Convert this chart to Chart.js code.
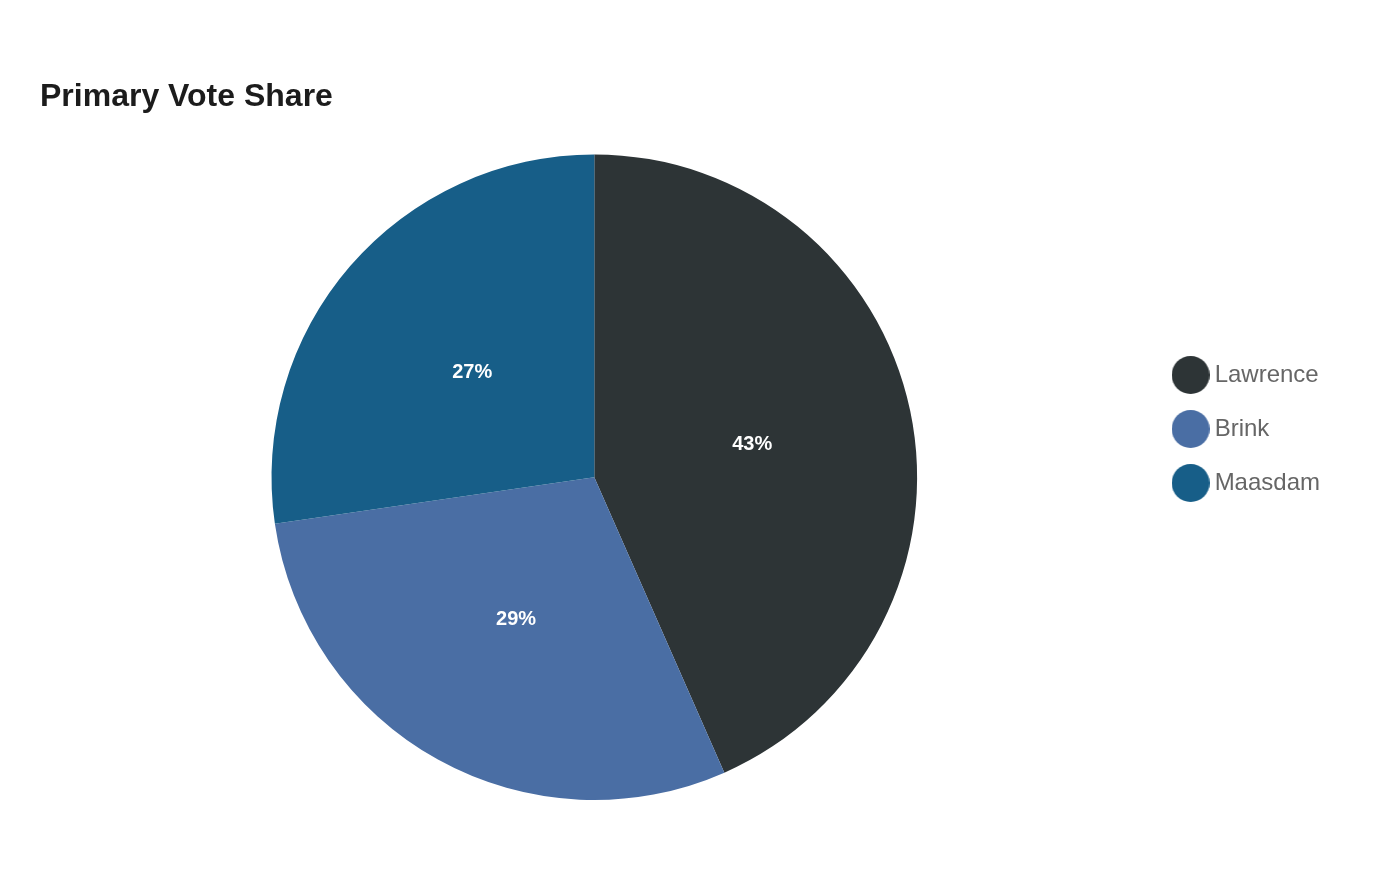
<!DOCTYPE html>
<html>
<head>
<meta charset="utf-8">
<script src="https://cdn.jsdelivr.net/npm/chart.js@4.4.1/dist/chart.umd.min.js"></script>
<style>
  html, body { margin: 0; padding: 0; background: #ffffff; }
  #wrap { width: 1400px; height: 880px; position: relative; }
</style>
</head>
<body>
<div id="wrap"><canvas id="c" width="1400" height="880"></canvas></div>
<script>
const chartTitle = 'Primary Vote Share';
const candidates = ['Lawrence', 'Brink', 'Maasdam'];
const voteShare = [43.4, 29.3, 27.3];
const sliceColors = ['#2d3436', '#4a6ea4', '#175e88'];

function circleImage(color, d) {
  const cv = document.createElement('canvas');
  cv.width = d; cv.height = d;
  const g = cv.getContext('2d');
  g.fillStyle = color;
  g.beginPath();
  g.arc(d / 2, d / 2, d / 2, 0, Math.PI * 2);
  g.fill();
  return cv;
}
const legendDots = sliceColors.map(c => circleImage(c, 38));

const sliceLabels = {
  id: 'sliceLabels',
  afterDatasetsDraw(chart) {
    const ctx = chart.ctx;
    const meta = chart.getDatasetMeta(0);
    const data = chart.data.datasets[0].data;
    const total = data.reduce((a, b) => a + b, 0);
    ctx.save();
    ctx.fillStyle = '#ffffff';
    ctx.font = 'bold 20px "Liberation Sans", Arial, sans-serif';
    ctx.textAlign = 'center';
    ctx.textBaseline = 'middle';
    meta.data.forEach((arc, i) => {
      const p = arc.tooltipPosition();
      ctx.fillText(Math.round(data[i] / total * 100) + '%', p.x, p.y + 1);
    });
    ctx.restore();
  }
};

new Chart(document.getElementById('c'), {
  type: 'pie',
  data: {
    labels: candidates,
    datasets: [{
      data: voteShare,
      backgroundColor: sliceColors,
      borderWidth: 0
    }]
  },
  options: {
    responsive: false,
    animation: false,
    devicePixelRatio: 1,
    layout: { padding: { top: 58, bottom: 80, left: 40, right: 70 } },
    plugins: {
      title: {
        display: true,
        text: chartTitle,
        align: 'start',
        color: '#1c1c1c',
        font: { family: '"Liberation Sans", Arial, sans-serif', size: 32, weight: 'bold', lineHeight: 1.2 },
        padding: { top: 20, bottom: 38 }
      },
      legend: {
        position: 'right',
        align: 'center',
        labels: {
          usePointStyle: true,
          padding: 30,
          color: '#666666',
          font: { family: '"Liberation Sans", Arial, sans-serif', size: 24 },
          generateLabels(chart) {
            const base = Chart.controllers.pie.overrides.plugins.legend.labels.generateLabels(chart);
            base.forEach((item, i) => { item.pointStyle = legendDots[i]; });
            return base;
          }
        }
      },
      tooltip: { enabled: false }
    }
  },
  plugins: [sliceLabels]
});
</script>
</body>
</html>
